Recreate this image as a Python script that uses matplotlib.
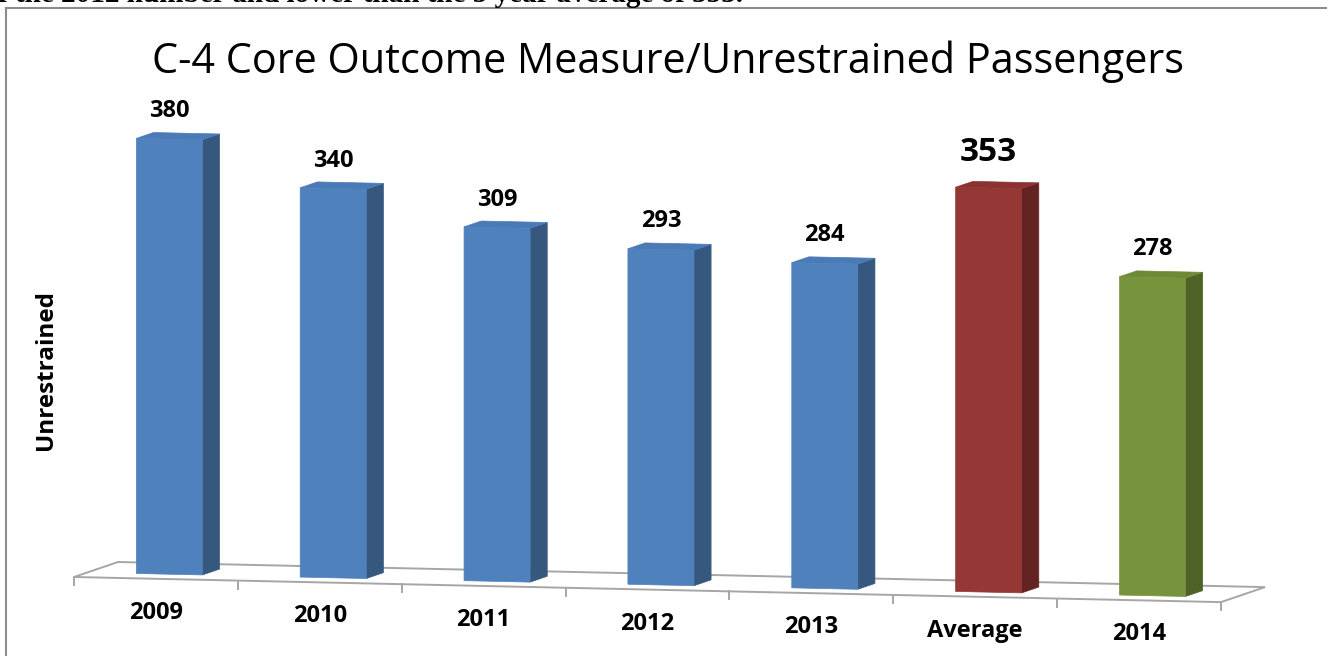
import matplotlib
matplotlib.use("Agg")
import matplotlib.pyplot as plt
from matplotlib.transforms import Affine2D
from matplotlib.patches import Polygon
from matplotlib.lines import Line2D

# ---------------- data ----------------
categories = ["2009", "2010", "2011", "2012", "2013", "Average", "2014"]
values = [380, 340, 309, 293, 284, 353, 278]
bar_groups = ["year", "year", "year", "year", "year", "average", "current"]
title = "C-4 Core Outcome Measure/Unrestrained Passengers"
ylabel = "Unrestrained"
top_text = "f the 2012 number and lower than the 5 year average of 353."

# ---------------- styles ----------------
face_colors = {
    "year":    ("#4F81BD", "#4A7BB6", "#36587F"),   # front, top, side
    "average": ("#953735", "#8A3331", "#632323"),
    "current": ("#77933C", "#6F8A37", "#4F6228"),
}
W, H = 1327, 656
DPI = 100
fig = plt.figure(figsize=(W / DPI, H / DPI), dpi=DPI)
fig.patch.set_facecolor("white")

# axes in category units (x) and value units (y)
x0_px, x1_px = 74, 1221          # floor front edge ends
y0_px = H - 577                   # floor front edge (display) at left end
px_per_unit = 1.145
ax_h_px = 520
n = len(categories)
ax = fig.add_axes([x0_px / W, y0_px / H, (x1_px - x0_px) / W, ax_h_px / H])
ax.set_xlim(0, n)
ax.set_ylim(0, ax_h_px / px_per_unit)
ax.axis("off")
px_per_cat = (x1_px - x0_px) / n

# oblique "3-D" projection: floor slopes down to the right
slope = 0.0219
shear = Affine2D.from_values(1, -slope, 0, 1, 0, slope * x0_px)
T = ax.transData + shear

# depth offset of the floor (pixels) for depth 0..1
depth_dx, depth_dy = 44.0, 15.0


def proj(c, v, d):
    """category position c, value v, depth d (0 front .. 1 back) -> data coords"""
    dx = depth_dx * d
    dy = depth_dy * d + slope * dx
    return (c + dx / px_per_cat, v + dy / px_per_unit)


# floor
floor = [proj(0, 0, 0), proj(n, 0, 0), proj(n, 0, 1), proj(0, 0, 1)]
ax.add_patch(Polygon(floor, closed=True, facecolor="white", edgecolor="#A6A6A6",
                     lw=1.4, transform=T, zorder=1, clip_on=False))
# tick marks on the front floor edge
tick_len = 8 / px_per_unit
for k in range(n + 1):
    p = proj(k, 0, 0)
    ax.add_line(Line2D([p[0], p[0]], [p[1], p[1] - tick_len], color="#A6A6A6",
                       lw=1.4, transform=T, zorder=1, clip_on=False))

# bars
half_w = 33 / px_per_cat
d0, d1 = 0.305, 0.695
for i, (cat, val, grp) in enumerate(zip(categories, values, bar_groups)):
    front_c, top_c, side_c = face_colors[grp]
    cx = i + 0.5
    a, b = cx - half_w, cx + half_w
    side = [proj(b, 0, d0), proj(b, 0, d1), proj(b, val, d1), proj(b, val, d0)]
    top = [proj(a, val, d0), proj(b, val, d0), proj(b, val, d1), proj(a, val, d1)]
    front = [proj(a, 0, d0), proj(b, 0, d0), proj(b, val, d0), proj(a, val, d0)]
    for poly, col in ((side, side_c), (top, top_c), (front, front_c)):
        ax.add_patch(Polygon(poly, closed=True, facecolor=col, edgecolor=col,
                             lw=0.5, transform=T, zorder=2 + i, clip_on=False))
    # value label
    big = grp == "average"
    off_px = 35 if big else 28
    ax.annotate(str(val), xy=proj(cx, val, d0), xycoords=T,
                xytext=(0, off_px * 72 / DPI), textcoords="offset points",
                ha="center", va="center", fontsize=24 if big else 17,
                fontweight="bold", family="Open Sans", color="black",
                annotation_clip=False, zorder=20)
    # category label
    lab_pos = proj(cx, -34 / px_per_unit, 0)
    ax.text(lab_pos[0], lab_pos[1], cat, transform=T, ha="center", va="center",
            fontsize=17, fontweight="bold", family="Open Sans", color="black",
            clip_on=False, zorder=20)

# y-axis label
fig.text(46 / W, 1 - 370 / H, ylabel, rotation=90, ha="center", va="center",
         fontsize=17.5, fontweight="bold", family="Open Sans", color="black")

# title
t_title = fig.text(668 / W, 1 - 73 / H, title, ha="center", va="baseline",
                   fontsize=29, family="Open Sans", color="black")
# clipped line of document text above the chart frame
t_top = fig.text(-2 / W, 1 - 2 / H, top_text, ha="left", va="baseline",
                 fontsize=16, family="Liberation Serif", fontweight="bold",
                 color="black")

# fit text widths to the reference layout
fig.canvas.draw()
r = fig.canvas.get_renderer()
for t, target in ((t_title, 1036), (t_top, 747)):
    bb = t.get_window_extent(r)
    t.set_fontsize(t.get_fontsize() * target / bb.width)

# chart frame (top and left edges visible)
fig.add_artist(Line2D([6 / W, 1.0], [1 - 8 / H, 1 - 8 / H], color="#8C8C8C",
                      lw=1.5, transform=fig.transFigure))
fig.add_artist(Line2D([6 / W, 6 / W], [1 - 8 / H, 0.0], color="#8C8C8C",
                      lw=1.5, transform=fig.transFigure))

fig.savefig("out.png", dpi=DPI, facecolor="white")
